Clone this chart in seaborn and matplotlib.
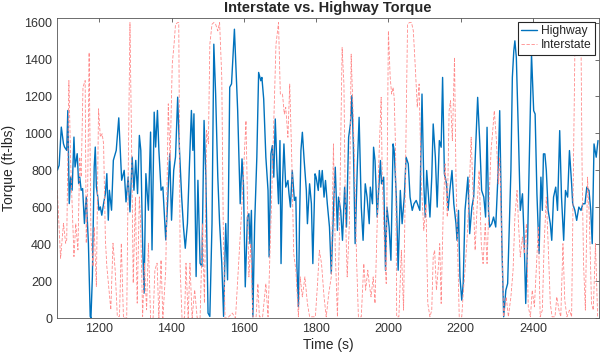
import numpy as np
import pandas as pd
import matplotlib
matplotlib.use('Agg')
import matplotlib.pyplot as plt
import seaborn as sns

# Highway torque
highway_time = [
    1084, 1089, 1095, 1101, 1104, 1110, 1113, 1117, 1121, 1125,
    1130, 1133, 1139, 1143, 1146, 1150, 1154, 1159, 1164, 1170,
    1175, 1177, 1181, 1186, 1189, 1192, 1196, 1199, 1203, 1207,
    1212, 1217, 1221, 1225, 1228, 1234, 1239, 1247, 1254, 1262,
    1269, 1274, 1280, 1285, 1291, 1296, 1301, 1306, 1311, 1315,
    1320, 1324, 1329, 1336, 1342, 1346, 1352, 1356, 1361, 1365,
    1371, 1376, 1384, 1389, 1395, 1400, 1406, 1411, 1417, 1422,
    1428, 1433, 1438, 1444, 1449, 1455, 1459, 1462, 1468, 1473,
    1479, 1484, 1490, 1495, 1501, 1506, 1512, 1517, 1522, 1528,
    1533, 1539, 1544, 1550, 1555, 1561, 1566,
    1574, 1583, 1590, 1595, 1599, 1604, 1610, 1614, 1617, 1621,
    1625, 1630, 1636, 1641, 1647, 1650, 1655, 1661, 1667, 1670,
    1675, 1679, 1683, 1687, 1692, 1696, 1700, 1703, 1707, 1711,
    1716, 1722, 1725, 1729, 1734, 1740, 1744, 1747, 1751, 1754,
    1758, 1762, 1767, 1773, 1776, 1782, 1787, 1791, 1797, 1800,
    1806, 1809, 1813, 1817, 1822, 1826, 1831, 1837, 1842, 1848,
    1853, 1859, 1862, 1868, 1873, 1879, 1884, 1890, 1895, 1899,
    1903, 1908, 1914, 1919, 1925, 1930, 1936, 1941, 1947, 1950,
    1956, 1959, 1963, 1969, 1972, 1978, 1981, 1987, 1992, 1996,
    2002, 2007, 2013, 2016, 2022, 2027, 2033, 2038, 2044, 2049,
    2055, 2060, 2066, 2071, 2077,
    2087, 2093, 2098, 2102, 2106, 2111, 2115, 2120, 2124, 2130,
    2135, 2141, 2146, 2150, 2155, 2161, 2165, 2170, 2176, 2181,
    2187, 2190, 2194, 2198, 2203, 2207, 2212, 2220, 2225, 2231,
    2236, 2242, 2247, 2253, 2258, 2264, 2269, 2273, 2277, 2280,
    2286, 2291, 2297, 2303, 2308, 2314, 2319, 2325, 2330, 2336,
    2339, 2343, 2347, 2350, 2354, 2360, 2365, 2371, 2376, 2380,
    2385, 2391, 2396, 2402, 2406, 2411, 2417, 2422, 2426, 2429,
    2433, 2437, 2442, 2448, 2452, 2457, 2463, 2468, 2474, 2479,
    2485, 2490, 2496, 2501, 2507, 2510, 2516, 2521, 2527, 2533,
    2538, 2544, 2549, 2555, 2560, 2564, 2569, 2575, 2580,
]
highway_torque = [
    800, 827, 1034, 944, 926, 908, 1124, 620, 764, 692,
    980, 818, 890, 728, 764, 692, 701, 512, 656, 405,
    9, 0, 225, 818, 926, 710, 656, 584, 602, 557,
    620, 674, 782, 530, 692, 584, 854, 908, 1084, 746,
    800, 629, 764, 575, 872, 692, 854, 674, 989, 908,
    405, 135, 782, 584, 1007, 369, 1115, 926, 1124, 908,
    692, 710, 423, 620, 890, 530, 800, 872, 1196, 908,
    656, 494, 378, 512, 800, 1124, 908, 1106, 225, 746,
    297, 279, 1070, 764, 27, 9, 512, 1483, 1214, 764,
    512, 297, 9, 512, 207, 1250, 1268,
    1564, 1123, 619, 862, 727, 169, 547, 565, 403, 583,
    7, 511, 871, 1330, 1285, 1303, 1186, 871, 691, 331,
    889, 934, 763, 1078, 799, 619, 961, 295, 727, 943,
    709, 745, 673, 601, 799, 637, 655, 277, 61, 511,
    907, 1006, 853, 691, 511, 727, 619, 295, 781, 763,
    691, 799, 709, 799, 655, 745, 619, 493, 241, 583,
    817, 475, 655, 583, 421, 709, 493, 979, 1051, 1204,
    943, 403, 817, 1087, 601, 421, 727, 655, 511, 709,
    619, 925, 853, 547, 655, 853, 727, 763, 259, 601,
    493, 313, 943, 907, 655, 259, 691, 511, 655, 871,
    835, 655, 583, 619, 637,
    583, 1213, 727, 547, 799, 655, 547, 763, 1051, 871,
    601, 961, 925, 1303, 781, 727, 583, 691, 799, 619,
    511, 421, 583, 223, 97, 187, 583, 763, 457, 601,
    655, 943, 1195, 943, 691, 655, 547, 1033, 583, 493,
    511, 547, 493, 763, 1123, 403, 7, 151, 187, 583,
    799, 1303, 1447, 1501, 1411, 979, 583, 673, 403, 79,
    403, 961, 1429, 1123, 1105, 673, 349, 763, 583, 889,
    889, 799, 583, 511, 421, 655, 709, 583, 1015, 655,
    421, 691, 655, 907, 727, 619, 583, 529, 601, 583,
    619, 619, 709, 691, 583, 403, 943, 871, 961,
]

# Interstate torque
interstate_time = [
    1084, 1093, 1101, 1107, 1110, 1116, 1121, 1130, 1135, 1141,
    1146, 1150, 1155, 1161, 1164, 1168, 1172, 1177, 1183, 1186,
    1192, 1198, 1203, 1208, 1212, 1217, 1221, 1227, 1232, 1238,
    1244, 1250, 1256, 1261, 1267, 1276, 1280, 1285, 1290, 1294,
    1300, 1305, 1311, 1314, 1320, 1325, 1331, 1336, 1342, 1349,
    1354, 1360, 1365, 1371, 1376, 1384, 1391, 1396, 1402, 1407,
    1411, 1417, 1420, 1424, 1429, 1436, 1440, 1446, 1451, 1457,
    1464, 1471, 1479, 1486, 1491, 1497, 1502, 1506, 1512, 1517,
    1522, 1528, 1533, 1539, 1543, 1548, 1555, 1568, 1577,
    1593, 1606, 1614, 1619, 1625, 1634, 1639, 1643, 1652, 1661,
    1667, 1676, 1689, 1696, 1701, 1707, 1712, 1716, 1722, 1727,
    1733, 1738, 1744, 1751, 1756, 1762, 1769, 1776, 1782, 1798,
    1804, 1809, 1815, 1822, 1828, 1835, 1842, 1848, 1853, 1859,
    1864, 1872, 1877, 1881, 1886, 1892, 1897, 1903, 1906, 1912,
    1917, 1925, 1932, 1937, 1943, 1947, 1952, 1958, 1963, 1969,
    1974, 1980, 1983, 1989, 1994, 2000, 2005, 2009, 2013, 2016,
    2020, 2023, 2029, 2036, 2042, 2047, 2053, 2058, 2064, 2069,
    2074, 2080, 2085, 2091, 2098, 2104, 2109, 2115, 2120, 2124,
    2128, 2133, 2139, 2142, 2146, 2152, 2157, 2163, 2168, 2172,
    2177, 2183, 2187, 2190, 2196, 2203, 2207, 2212, 2218, 2223,
    2229, 2234, 2240, 2245, 2251, 2257, 2262, 2268, 2273, 2279,
    2284, 2288, 2293, 2299, 2304, 2308, 2314, 2319, 2326, 2332,
    2339, 2345, 2350, 2356, 2360, 2365, 2371, 2376, 2382, 2387,
    2393, 2398, 2404, 2409, 2415, 2420, 2426, 2431, 2437, 2442,
    2448, 2453, 2461, 2466, 2472, 2477, 2483, 2488, 2494, 2501,
    2507, 2516, 2521, 2527, 2533, 2536, 2540, 2545, 2551, 2556,
    2562, 2567, 2573, 2579,
]
interstate_torque = [
    692, 324, 512, 405, 423, 1286, 836, 333, 512, 369,
    872, 764, 1250, 1286, 405, 692, 1438, 441, 279, 494,
    171, 1133, 980, 998, 944, 423, 279, 153, 45, 405,
    261, 9, 9, 405, 0, 0, 764, 1600, 854, 189,
    656, 81, 656, 548, 9, 297, 45, 405, 0, 0,
    261, 297, 0, 315, 0, 261, 1160, 854, 1375, 1483,
    1591, 1600, 1600, 261, 0, 0, 297, 0, 297, 0,
    153, 0, 0, 512, 81, 1016, 944, 1483, 1591, 1600,
    1591, 1555, 1600, 1304, 512, 0, 0, 27, 0,
    547, 1069, 223, 403, 7, 7, 187, 7, 7, 187,
    7, 583, 1483, 1600, 1213, 1213, 1105, 1141, 979, 1267,
    835, 349, 259, 7, 223, 115, 223, 79, 7, 7,
    187, 367, 295, 115, 7, 133, 223, 943, 367, 7,
    403, 1465, 1267, 583, 223, 511, 1429, 1069, 853, 313,
    7, 7, 295, 151, 259, 187, 115, 223, 79, 511,
    871, 1195, 763, 403, 187, 1555, 1303, 1213, 1249, 1195,
    907, 7, 7, 367, 43, 763, 1591, 1600, 1600, 1555,
    1375, 1141, 1267, 727, 475, 619, 79, 7, 43, 331,
    367, 151, 295, 403, 79, 601, 835, 547, 1123, 1177,
    961, 1411, 763, 511, 7, 7, 133, 259, 439, 655,
    979, 691, 367, 583, 799, 403, 295, 511, 295, 655,
    907, 997, 1123, 961, 727, 871, 403, 7, 115, 7,
    115, 259, 547, 691, 511, 331, 439, 349, 511, 61,
    7, 151, 61, 259, 493, 7, 43, 403, 655, 403,
    79, 7, 7, 115, 43, 7, 403, 97, 7, 43,
    7, 1447, 1600, 1591, 1483, 799, 295, 43, 763, 547,
    79, 43, 403, 7,
]

highway = pd.DataFrame({'time': highway_time, 'torque': highway_torque})
interstate = pd.DataFrame({'time': interstate_time, 'torque': interstate_torque})

sns.set_style('white')
plt.rcParams['font.family'] = ['Liberation Sans', 'DejaVu Sans']

fig, ax = plt.subplots(figsize=(6.06, 3.59), dpi=100)
fig.subplots_adjust(left=0.094, right=0.988, bottom=0.114, top=0.95)

sns.lineplot(data=highway, x='time', y='torque', ax=ax, color='#0072BD',
             linewidth=1.0, label='Highway', estimator=None)
sns.lineplot(data=interstate, x='time', y='torque', ax=ax, color='#ff8a8a',
             linewidth=0.6, linestyle=(0, (4, 2)), label='Interstate', estimator=None)

ax.set_xlim(1083, 2582)
ax.set_ylim(0, 1625)
ax.set_xticks(range(1200, 2401, 200))
ax.set_yticks(range(0, 1601, 200))

ax.set_title('Interstate vs. Highway Torque', fontsize=10.5, fontweight='bold', pad=4)
ax.set_xlabel('Time (s)', fontsize=10, color='#262626', labelpad=2)
ax.set_ylabel('Torque (ft-lbs)', fontsize=10, color='#262626', labelpad=6)

ax.tick_params(direction='in', length=3, width=0.5, top=True, right=True,
               labelsize=9, colors='#333333')
for sp in ax.spines.values():
    sp.set_visible(True)
    sp.set_color('#555555')
    sp.set_linewidth(0.6)

leg = ax.legend(loc='upper right', frameon=True, fancybox=False, edgecolor='#262626',
                framealpha=1, fontsize=8.7, handlelength=1.3, handletextpad=0.3,
                borderpad=0.3, labelspacing=0.15, borderaxespad=0.3)
leg.get_frame().set_linewidth(0.8)

fig.savefig('out.png', dpi=100)
